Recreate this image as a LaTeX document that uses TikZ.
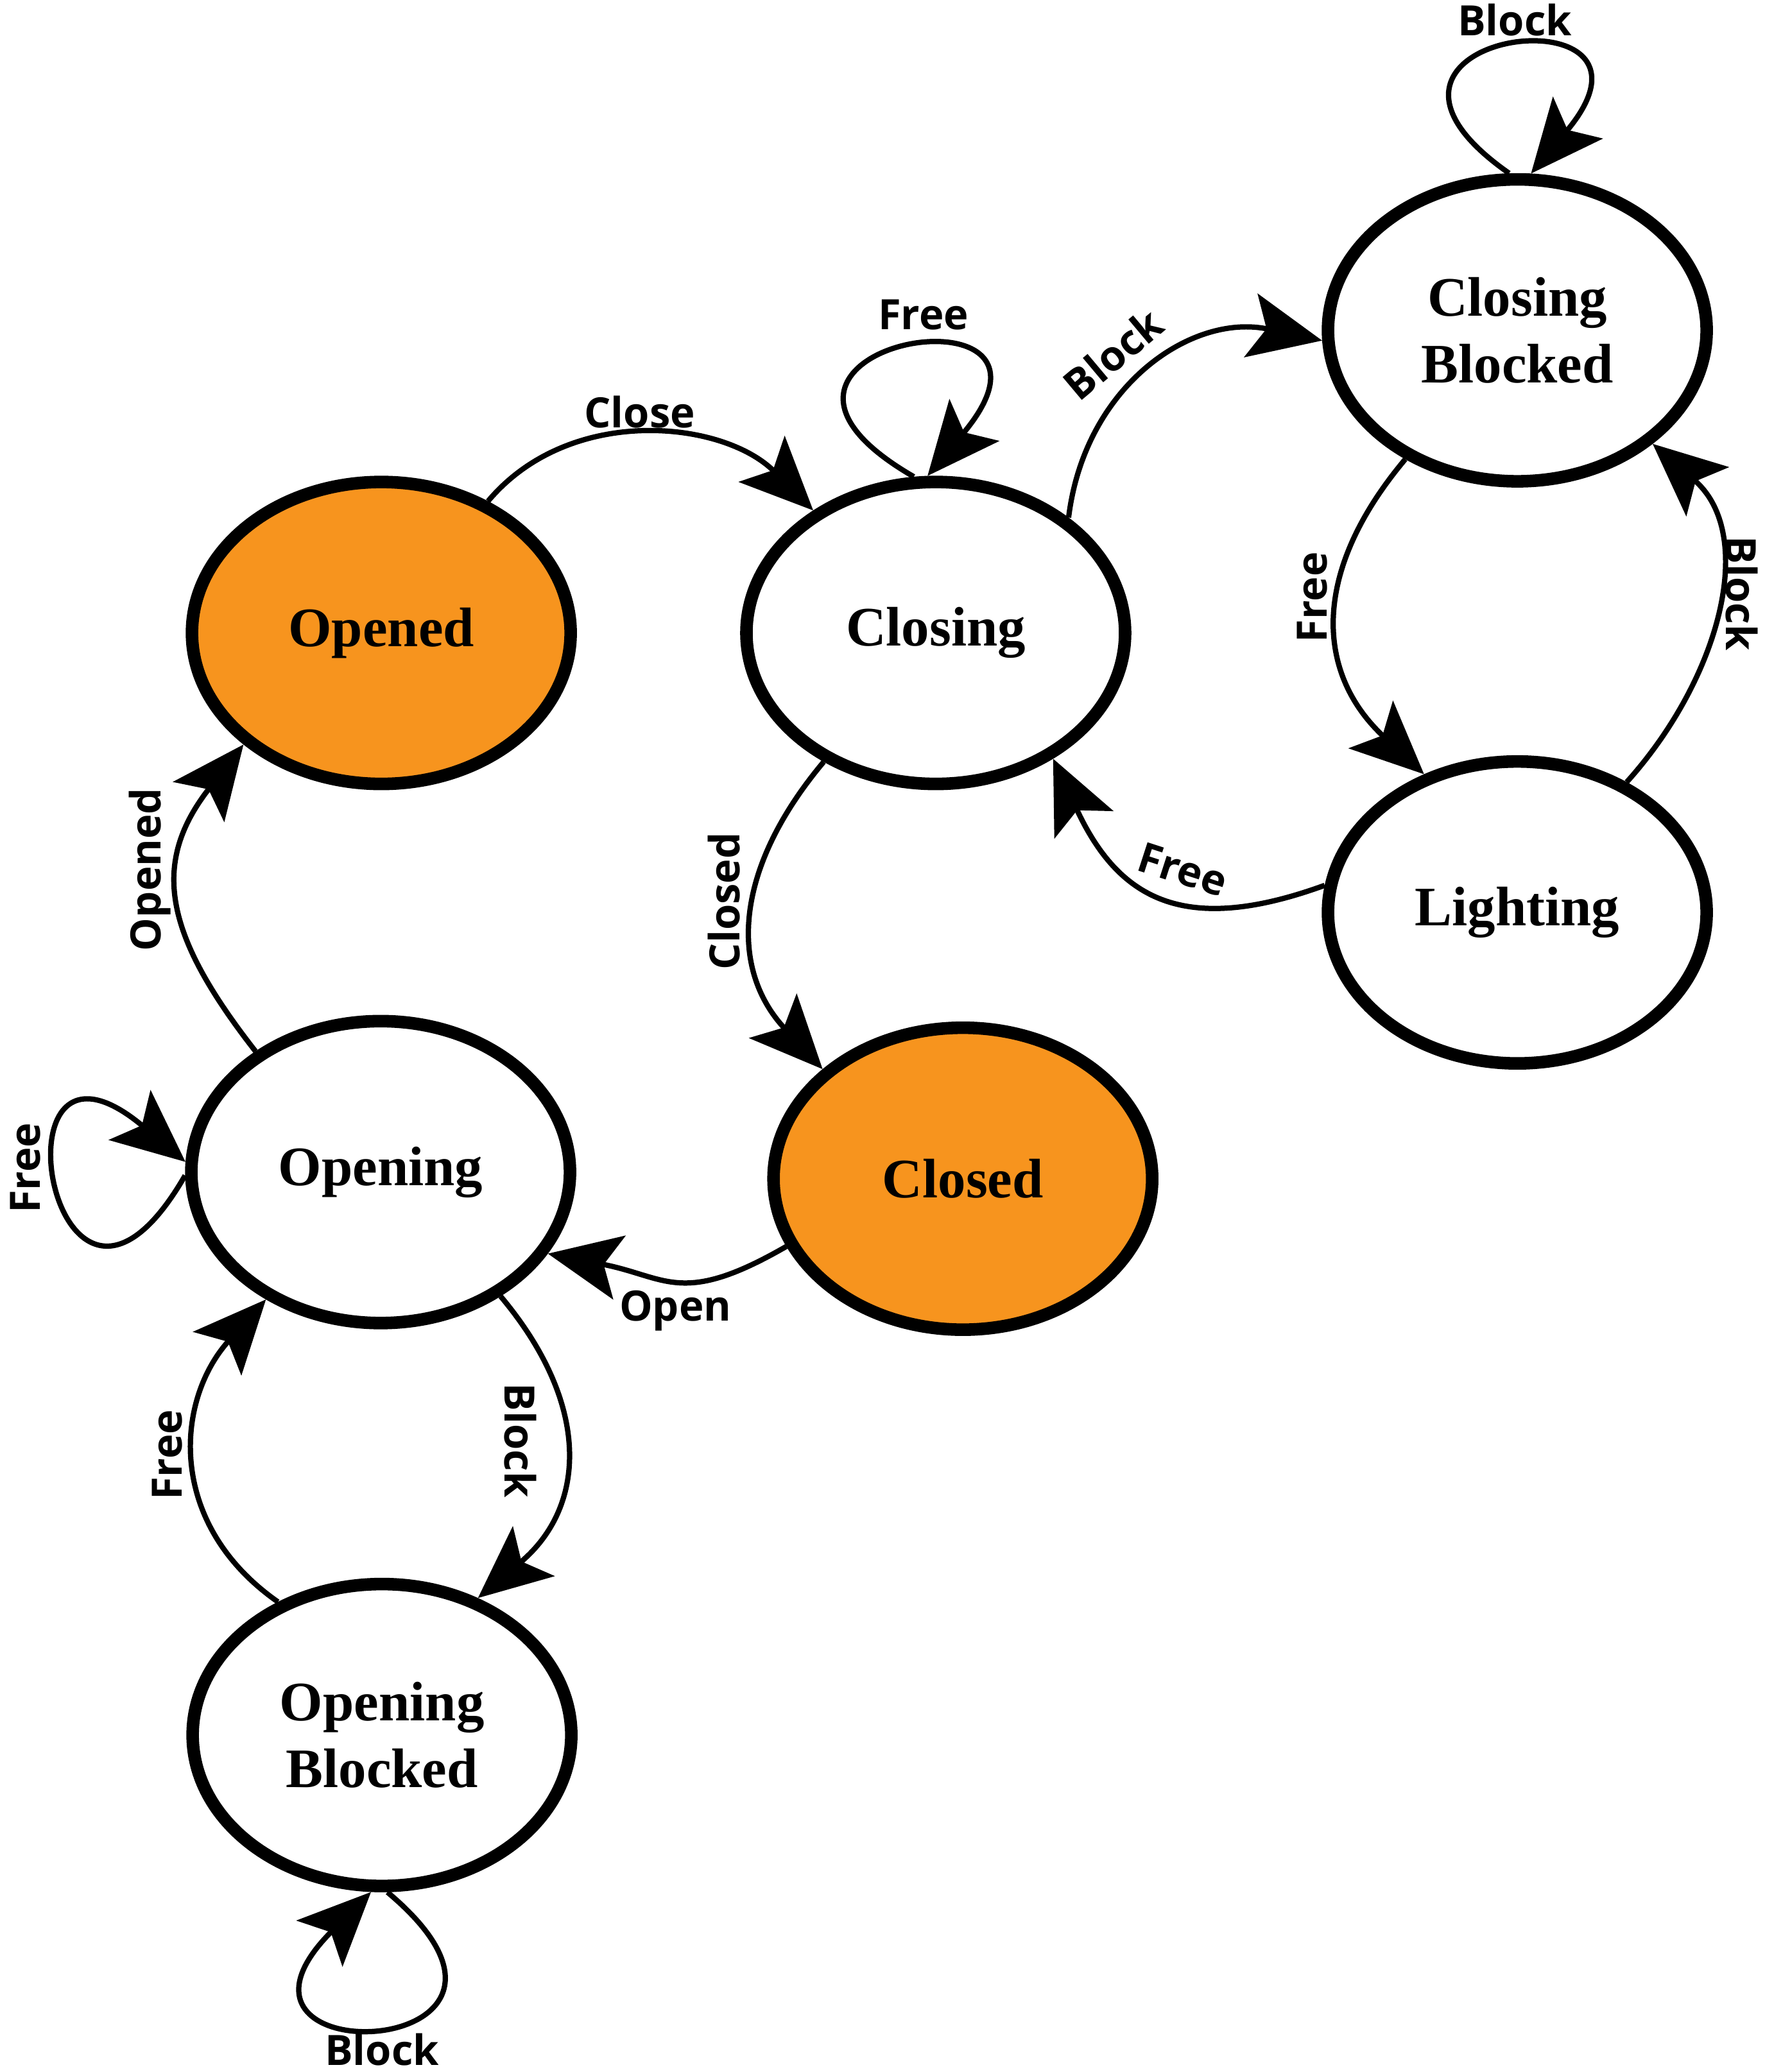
\documentclass[tikz,border=0pt]{standalone}
\usepackage{fontspec}
\setmainfont{Liberation Serif}
\newfontfamily\lblfont{Open Sans}
\usetikzlibrary{shapes.geometric,arrows.meta}
\definecolor{stateorange}{RGB}{247,148,30}
\begin{document}
\begin{tikzpicture}[x=0.1mm,y=0.1mm,
  state/.style={ellipse, draw=black, line width=0.95mm, minimum width=28.65mm, minimum height=22.85mm, inner sep=0pt, font=\fontsize{12pt}{14.4pt}\selectfont\bfseries, align=center},
  final/.style={state, fill=stateorange},
  trans/.style={line width=0.4mm, -{Stealth[length=5.5mm,width=4.9mm,inset=1.2mm]}},
  lbl/.style={inner sep=0pt, font=\lblfont\fontsize{9pt}{10pt}\selectfont\bfseries}]
\useasboundingbox (0,0) rectangle (1335,1568);

\node[final] (Opened) at (288.5,1089) {Opened};
\node[state] (Closing) at (708,1089) {Closing};
\node[state] (CB) at (1148,1318) {Closing\\Blocked};
\node[state] (Lighting) at (1148,877.5) {Lighting};
\node[state] (Opening) at (288,681) {Opening};
\node[final] (Closed) at (728.5,676) {Closed};
\node[state] (OB) at (289,255) {Opening\\Blocked};

\draw[trans] (Opened.51) to[out=50,in=135] (Closing.135);
\draw[trans] (Closing.98) to[out=150,in=50,min distance=20mm] (Closing.93);
\draw[trans] (Closing.41) to[out=83,in=168,looseness=1.1] (CB.183);
\draw[trans] (CB.229) to[out=230,in=137,looseness=1.2] (Lighting.124);
\draw[trans] (Lighting.50) to[out=48,in=319,looseness=1.05] (CB.320);
\draw[trans] (Lighting.172) to[out=200,in=295,looseness=1.3] (Closing.313);
\draw[trans] (Closing.229) to[out=230,in=133,looseness=1.15] (Closed.142);
\draw[trans] (Closed.201) to[out=210,in=349,looseness=1.3] (Opening.334);
\draw[trans] (Opening.136) to[out=128,in=232,looseness=1.25] (Opened.219);
\draw[trans] (Opening.181) to[out=240,in=140,min distance=20mm] (Opening.177);
\draw[trans] (Opening.314) to[out=310,in=40,looseness=1.2] (OB.55);
\draw[trans] (OB.128) to[out=145,in=228,looseness=1.15] (Opening.228);
\draw[trans] (OB.272) to[out=320,in=225,min distance=20mm] (OB.266);
\draw[trans] (CB.93) to[out=145,in=50,min distance=18.8mm] (CB.85);

\node[lbl] (lClose) at (484,1256) {Close};
\node[lbl] (lFreeC) at (698.6,1330) {Free};
\node[lbl,rotate=40] (lBlockC) at (842,1300) {Block};
\node[lbl,rotate=90] (lFreeCB) at (993,1116) {Free};
\node[lbl,rotate=-90] (lBlockL) at (1318,1119) {Block};
\node[lbl,rotate=-18] (lFreeL) at (895,910) {Free};
\node[lbl,rotate=90] (lClosed) at (548,886) {Closed};
\node[lbl] (lOpen) at (511,576) {Open};
\node[lbl,rotate=90] (lOpened) at (113.6,910) {Opened};
\node[lbl,rotate=90] (lFreeO) at (19,684) {Free};
\node[lbl,rotate=-90] (lBlockO) at (394,478) {Block};
\node[lbl,rotate=90] (lFreeOB) at (126.5,467) {Free};
\node[lbl] (lBlockOB) at (289,17) {Block};
\node[lbl] (lBlockCB) at (1146,1553) {Block};
\end{tikzpicture}
\end{document}
